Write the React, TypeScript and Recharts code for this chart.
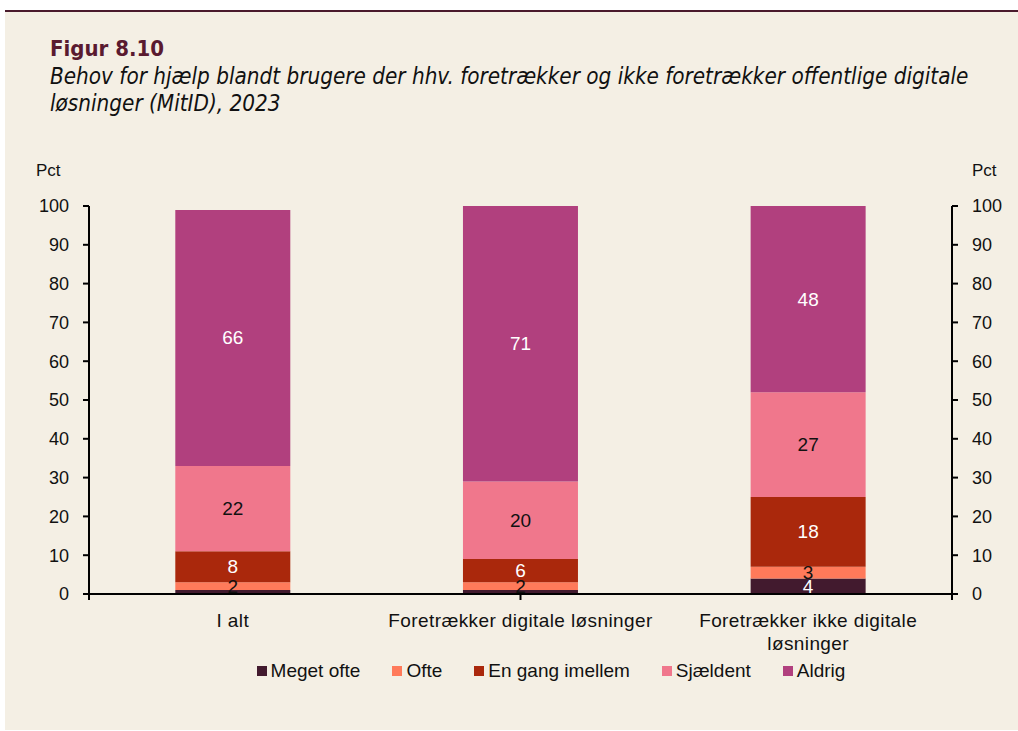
import React from 'react'
import { BarChart, Bar, XAxis, YAxis, LabelList } from 'recharts'

const categories = ['I alt', 'Foretrækker digitale løsninger', 'Foretrækker ikke digitale løsninger']
const categoryLines = [['I alt'], ['Foretrækker digitale løsninger'], ['Foretrækker ikke digitale', 'løsninger']]
const megetOfte = [1, 1, 4]
const ofte = [2, 2, 3]
const enGang = [8, 6, 18]
const sjaeldent = [22, 20, 27]
const aldrig = [66, 71, 48]
const yTicks = [0, 10, 20, 30, 40, 50, 60, 70, 80, 90, 100]
const boundaryTicks = [0, 1, 2, 3]

const series = [
  { key: 'megetOfte', name: 'Meget ofte', color: '#421a2e', label: '#ffffff' },
  { key: 'ofte', name: 'Ofte', color: '#ff7a5a', label: '#111111' },
  { key: 'enGang', name: 'En gang imellem', color: '#aa280c', label: '#ffffff' },
  { key: 'sjaeldent', name: 'Sjældent', color: '#f0778c', label: '#111111' },
  { key: 'aldrig', name: 'Aldrig', color: '#b1407e', label: '#ffffff' },
]

const data = categories.map((c, i) => ({
  cat: c,
  megetOfte: megetOfte[i],
  ofte: ofte[i],
  enGang: enGang[i],
  sjaeldent: sjaeldent[i],
  aldrig: aldrig[i],
}))

const font = "'Liberation Sans', Arial, sans-serif"
const narrow = "'Liberation Sans Narrow', 'DejaVu Sans Condensed', sans-serif"

function CatTick(props: any) {
  const { x, y, payload, index } = props
  const lines = categoryLines[index] ?? [payload.value]
  return (
    <text x={x} y={y + 11} textAnchor="middle" fontSize={19} letterSpacing={0.4} fontFamily={font} fill="#111">
      {lines.map((l, i) => (
        <tspan key={i} x={x} dy={i === 0 ? '0.71em' : 23}>{l}</tspan>
      ))}
    </text>
  )
}

// value labels centred in each segment; the 1 % slivers carry no label
const makeLabel = (color: string) => (props: any) => {
  const { x, y, width, height, value } = props
  if (value < 2) return null
  return (
    <text x={x + width / 2} y={y + height / 2} textAnchor="middle" dominantBaseline="central"
      fontSize={19} fontFamily={font} fill={color}>
      {value}
    </text>
  )
}

const axisStroke = { stroke: '#000', strokeWidth: 2 }

export default function App() {
  return (
    <div style={{ position: 'absolute', left: 0, top: 0, width: 1018, height: 731, background: '#fff' }}>
      <div style={{ position: 'absolute', left: 5, top: 12, right: 0, bottom: 1, background: '#f4efe4' }} />
      <div style={{ position: 'absolute', left: 5, top: 10, right: 0, height: 2, background: '#4a1a2c' }} />
      <div style={{ position: 'absolute', left: 50, top: 36, fontFamily: narrow, fontWeight: 'bold', fontSize: 22, color: '#5a1a30' }}>
        Figur 8.10
      </div>
      <div style={{ position: 'absolute', left: 50, top: 63, width: 940, fontFamily: narrow, fontStyle: 'italic', fontSize: 22.3, lineHeight: '27px', color: '#111' }}>
        Behov for hjælp blandt brugere der hhv. foretrækker og ikke foretrækker offentlige digitale løsninger (MitID), 2023
      </div>
      <div style={{ position: 'absolute', left: 36, top: 161, fontFamily: font, fontSize: 17, color: '#111' }}>Pct</div>
      <div style={{ position: 'absolute', left: 972, top: 161, fontFamily: font, fontSize: 17, color: '#111' }}>Pct</div>

      <div style={{ position: 'absolute', left: 0, top: 0 }}>
        <BarChart width={1018} height={731} data={data} barCategoryGap="30%"
          margin={{ top: 206, right: 6, bottom: 76, left: 29 }}>
          <XAxis xAxisId="a" type="number" domain={[0, 3]} ticks={boundaryTicks} height={1}
            axisLine={axisStroke} tickLine={axisStroke}
            tickSize={6} tick={() => <g />} allowDataOverflow />
          <XAxis xAxisId="b" dataKey="cat" type="category" height={60} axisLine={false} tickLine={false}
            tick={<CatTick />} interval={0} />
          <YAxis yAxisId="l" orientation="left" width={60} domain={[0, 100]} ticks={yTicks}
            axisLine={axisStroke} tickLine={axisStroke} allowDataOverflow
            tickSize={6} tickMargin={14} tick={{ fontSize: 18, fontFamily: font, fill: '#111' }} />
          <YAxis yAxisId="r" orientation="right" width={60} domain={[0, 100]} ticks={yTicks}
            axisLine={axisStroke} tickLine={axisStroke} allowDataOverflow
            tickSize={6} tickMargin={14} tick={{ fontSize: 18, fontFamily: font, fill: '#111' }} />
          {series.map((s) => (
            <Bar key={s.key} dataKey={s.key} name={s.name} stackId="a" xAxisId="b" yAxisId="l"
              fill={s.color} isAnimationActive={false}>
              <LabelList dataKey={s.key} content={makeLabel(s.label)} />
            </Bar>
          ))}
        </BarChart>
      </div>

      <div style={{ position: 'absolute', left: 0, width: 1018, top: 660, display: 'flex', justifyContent: 'center', paddingLeft: 116, boxSizing: 'border-box', fontFamily: font, fontSize: 19, color: '#111' }}>
        {series.map((s) => (
          <div key={s.key} style={{ display: 'flex', alignItems: 'center', marginRight: 32 }}>
            <span style={{ display: 'inline-block', width: 10, height: 10, background: s.color, marginRight: 4 }} />
            <span>{s.name}</span>
          </div>
        ))}
      </div>
    </div>
  )
}
